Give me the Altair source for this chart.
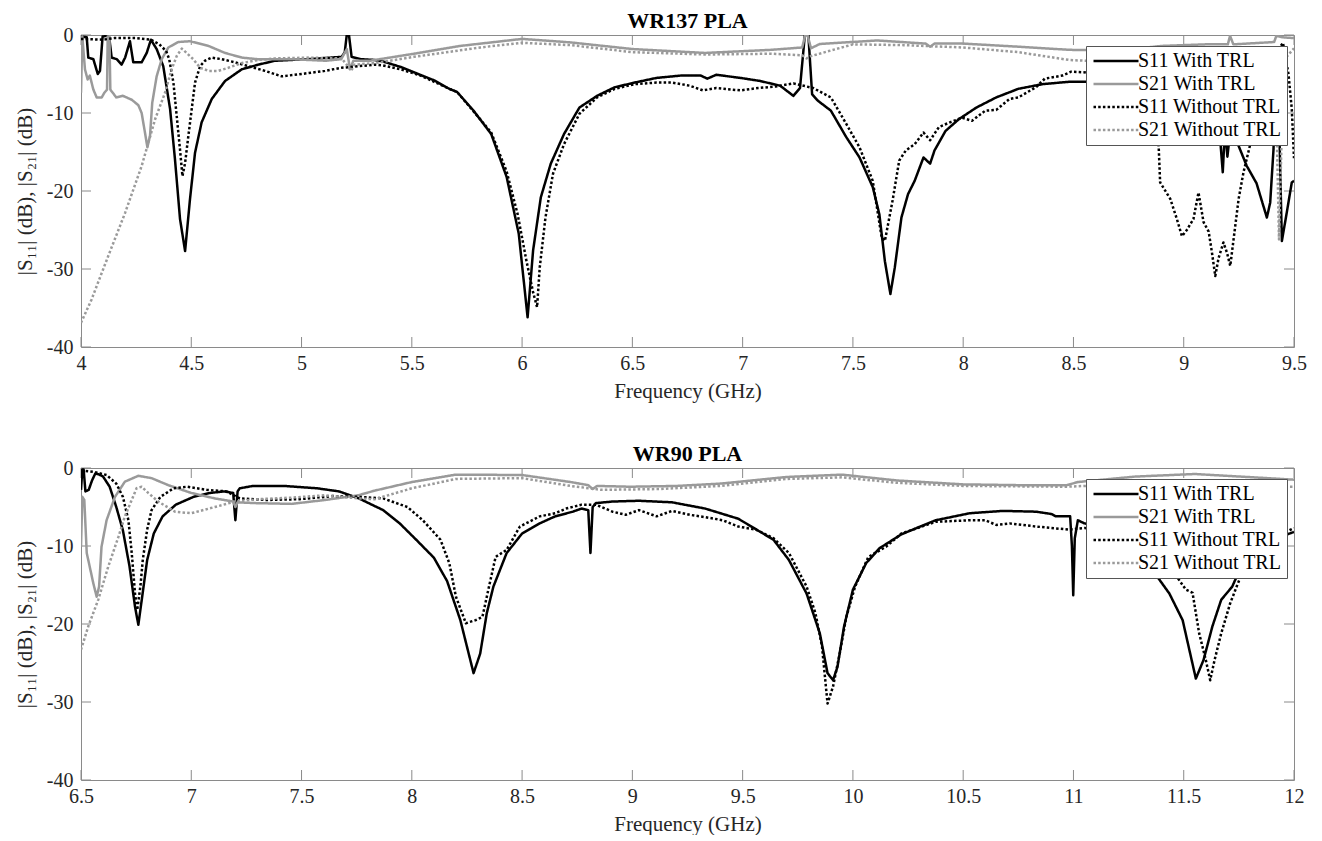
import altair as alt
import pandas as pd

# ---------------- data: (frequency GHz, dB) ----------------
SERIES = ["S11 With TRL", "S21 With TRL", "S11 Without TRL", "S21 Without TRL"]

# WR137 PLA
wr137_s11_trl = [(4.000,-0.2),(4.026,-0.3),(4.033,-2.9),(4.056,-3.1),(4.076,-5.0),(4.086,-4.6),(4.098,-0.2),(4.116,-0.1),(4.128,-0.3),(4.139,-2.9),(4.162,-3.1),(4.184,-3.8),(4.200,-2.9),(4.222,-0.8),(4.237,-3.5),(4.275,-3.5),(4.298,-2.3),(4.317,-0.6),(4.343,-1.8),(4.373,-4.0),(4.404,-9.5),(4.426,-15.9),(4.449,-23.6),(4.472,-27.7),(4.494,-21.1),(4.517,-15.1),(4.547,-11.2),(4.593,-8.2),(4.653,-5.9),(4.729,-4.4),(4.804,-3.8),(4.880,-3.3),(5.030,-3.1),(5.182,-2.8),(5.196,-2.2),(5.205,0.0),(5.215,0.0),(5.227,-2.8),(5.270,-3.1),(5.330,-3.2),(5.370,-3.4),(5.450,-4.1),(5.520,-4.9),(5.600,-5.8),(5.670,-6.9),(5.705,-7.3),(5.780,-9.7),(5.860,-12.7),(5.930,-18.2),(5.985,-25.5),(6.025,-36.2),(6.050,-27.6),(6.085,-20.8),(6.130,-16.5),(6.190,-12.7),(6.260,-9.3),(6.340,-7.8),(6.420,-6.7),(6.510,-6.1),(6.610,-5.5),(6.720,-5.2),(6.810,-5.2),(6.840,-5.6),(6.880,-5.1),(6.990,-5.5),(7.080,-5.9),(7.170,-6.5),(7.230,-7.8),(7.260,-6.8),(7.282,0.0),(7.298,0.0),(7.315,-7.6),(7.340,-8.4),(7.400,-9.7),(7.470,-13.1),(7.530,-15.7),(7.590,-19.5),(7.620,-23.0),(7.645,-29.0),(7.670,-33.2),(7.690,-29.8),(7.720,-23.4),(7.750,-20.4),(7.780,-18.7),(7.820,-15.7),(7.850,-16.5),(7.870,-14.8),(7.920,-12.3),(7.980,-10.8),(8.060,-9.3),(8.150,-8.0),(8.250,-6.9),(8.360,-6.3),(8.480,-6.0),(8.570,-6.0),(8.700,-6.3),(8.850,-7.2),(9.000,-9.0),(9.100,-11.0),(9.160,-11.5),(9.177,-17.6),(9.187,-12.0),(9.198,-15.6),(9.210,-12.5),(9.240,-13.6),(9.286,-16.8),(9.330,-19.0),(9.377,-23.4),(9.392,-21.5),(9.407,-14.7),(9.420,-3.0),(9.430,-8.0),(9.445,-26.4),(9.467,-22.8),(9.490,-18.9),(9.500,-18.7)]
wr137_s21_trl = [(4.000,-7.4),(4.006,-0.2),(4.018,-4.4),(4.030,-5.7),(4.040,-5.2),(4.056,-7.0),(4.071,-8.0),(4.094,-8.0),(4.106,-7.4),(4.118,-7.0),(4.121,-0.2),(4.129,-0.2),(4.133,-7.0),(4.160,-8.0),(4.190,-7.8),(4.230,-8.3),(4.260,-9.0),(4.275,-10.0),(4.290,-12.5),(4.301,-14.4),(4.313,-12.9),(4.323,-8.7),(4.343,-5.3),(4.366,-3.1),(4.396,-1.6),(4.441,-0.9),(4.494,-0.8),(4.578,-1.4),(4.653,-2.3),(4.730,-2.9),(4.800,-3.1),(4.950,-3.1),(5.110,-3.3),(5.180,-3.1),(5.205,-1.8),(5.220,-4.4),(5.235,-3.3),(5.310,-3.3),(5.510,-2.4),(5.720,-1.4),(6.000,-0.5),(6.220,-0.95),(6.500,-1.8),(6.830,-2.3),(7.130,-1.9),(7.270,-1.6),(7.284,0.0),(7.294,0.0),(7.310,-1.7),(7.350,-1.15),(7.610,-0.7),(7.830,-1.1),(7.850,-1.5),(7.870,-1.1),(8.000,-1.1),(8.250,-1.5),(8.480,-1.9),(8.700,-2.0),(8.900,-1.4),(9.100,-1.2),(9.200,-1.2),(9.210,-0.1),(9.225,-1.2),(9.350,-1.0),(9.410,-0.9),(9.420,-0.1),(9.450,-0.3),(9.500,-0.4)]
wr137_s11_notrl = [(4.000,-0.5),(4.100,-0.6),(4.150,-0.4),(4.250,-0.4),(4.317,-0.6),(4.355,-1.2),(4.386,-2.05),(4.400,-3.1),(4.419,-6.1),(4.434,-10.4),(4.449,-14.7),(4.460,-18.1),(4.472,-16.4),(4.487,-12.9),(4.502,-9.5),(4.517,-6.1),(4.540,-4.0),(4.562,-3.3),(4.593,-2.9),(4.638,-3.1),(4.698,-3.5),(4.759,-4.0),(4.834,-4.6),(4.910,-5.3),(5.000,-5.0),(5.106,-4.6),(5.182,-4.2),(5.258,-4.0),(5.333,-3.8),(5.370,-3.9),(5.450,-4.4),(5.540,-5.2),(5.670,-6.9),(5.705,-7.3),(5.780,-9.8),(5.860,-12.5),(5.930,-17.5),(5.980,-23.0),(6.020,-29.0),(6.050,-33.0),(6.068,-34.9),(6.080,-29.8),(6.106,-23.4),(6.140,-17.8),(6.190,-14.0),(6.260,-10.1),(6.340,-8.0),(6.420,-6.9),(6.510,-6.3),(6.610,-6.1),(6.680,-6.1),(6.760,-6.5),(6.820,-7.1),(6.880,-6.8),(6.990,-7.1),(7.070,-6.8),(7.150,-6.6),(7.230,-6.2),(7.320,-6.8),(7.400,-8.0),(7.470,-11.4),(7.530,-14.4),(7.590,-18.7),(7.630,-25.9),(7.645,-26.4),(7.680,-21.2),(7.710,-16.1),(7.740,-14.8),(7.780,-14.0),(7.820,-12.5),(7.850,-13.5),(7.890,-11.8),(7.940,-11.2),(7.995,-10.6),(8.040,-11.0),(8.100,-9.7),(8.150,-9.6),(8.210,-8.2),(8.250,-8.0),(8.330,-6.7),(8.370,-5.6),(8.450,-5.2),(8.490,-4.7),(8.555,-4.8),(8.650,-5.5),(8.750,-7.0),(8.850,-10.0),(8.886,-14.0),(8.893,-18.9),(8.939,-21.0),(8.969,-23.6),(8.992,-25.8),(9.014,-25.0),(9.044,-23.6),(9.067,-20.2),(9.090,-24.0),(9.113,-25.2),(9.128,-27.9),(9.143,-30.9),(9.158,-28.6),(9.180,-26.6),(9.196,-27.9),(9.211,-29.6),(9.226,-26.2),(9.249,-21.0),(9.271,-17.6),(9.300,-14.2),(9.350,-8.0),(9.400,-3.0),(9.450,-1.0),(9.475,-5.0),(9.490,-9.5),(9.500,-15.8)]
wr137_s21_notrl = [(4.000,-36.9),(4.048,-33.9),(4.124,-28.3),(4.200,-22.8),(4.275,-16.8),(4.336,-10.8),(4.381,-7.4),(4.411,-4.4),(4.434,-2.7),(4.457,-1.75),(4.479,-2.3),(4.509,-3.1),(4.540,-4.2),(4.578,-4.6),(4.623,-4.6),(4.668,-4.2),(4.729,-3.6),(4.804,-3.2),(4.880,-3.0),(5.030,-2.9),(5.182,-3.0),(5.210,-4.0),(5.225,-4.6),(5.240,-3.8),(5.333,-3.6),(5.510,-2.8),(5.810,-1.6),(6.000,-1.0),(6.220,-1.3),(6.500,-2.2),(6.830,-2.5),(7.130,-2.4),(7.270,-2.6),(7.290,-3.0),(7.310,-2.7),(7.500,-1.2),(7.730,-1.3),(8.000,-1.6),(8.250,-2.2),(8.480,-3.2),(8.700,-3.5),(9.000,-3.5),(9.200,-3.4),(9.400,-3.2),(9.420,-10.0),(9.432,-26.2),(9.445,-12.0),(9.460,-3.0),(9.500,-1.7)]

# WR90 PLA
wr90_s11_trl = [(6.500,-2.8),(6.506,-0.2),(6.512,-0.2),(6.520,-3.0),(6.535,-2.8),(6.550,-1.6),(6.565,-0.7),(6.580,-0.8),(6.600,-1.1),(6.630,-2.4),(6.660,-5.0),(6.690,-8.0),(6.720,-12.6),(6.745,-17.8),(6.760,-20.1),(6.775,-17.0),(6.800,-11.8),(6.830,-8.4),(6.870,-6.2),(6.930,-4.7),(7.010,-3.7),(7.085,-3.2),(7.150,-3.0),(7.190,-3.2),(7.200,-6.7),(7.210,-3.0),(7.220,-2.6),(7.280,-2.3),(7.420,-2.3),(7.570,-2.6),(7.670,-3.0),(7.760,-3.9),(7.870,-5.4),(7.945,-7.1),(8.020,-9.2),(8.100,-11.5),(8.160,-14.5),(8.220,-19.5),(8.280,-26.3),(8.310,-23.8),(8.340,-18.6),(8.370,-15.2),(8.430,-10.9),(8.500,-8.4),(8.580,-7.1),(8.650,-6.2),(8.730,-5.6),(8.770,-5.2),(8.800,-5.4),(8.810,-10.9),(8.820,-5.0),(8.835,-4.5),(8.910,-4.3),(9.030,-4.2),(9.180,-4.4),(9.330,-5.2),(9.480,-6.5),(9.640,-9.2),(9.710,-11.8),(9.790,-16.1),(9.850,-21.2),(9.885,-26.3),(9.910,-27.2),(9.930,-25.5),(9.960,-20.3),(10.000,-15.6),(10.060,-12.2),(10.120,-10.3),(10.220,-8.5),(10.375,-6.7),(10.530,-5.8),(10.680,-5.5),(10.830,-5.6),(10.900,-5.9),(10.920,-6.2),(10.985,-6.2),(10.993,-10.0),(10.999,-16.3),(11.006,-9.0),(11.020,-6.7),(11.050,-7.1),(11.150,-7.6),(11.250,-9.0),(11.330,-11.5),(11.374,-13.7),(11.435,-16.1),(11.495,-19.5),(11.555,-27.0),(11.590,-24.6),(11.630,-20.3),(11.670,-16.9),(11.720,-15.2),(11.750,-13.3),(11.850,-10.0),(11.940,-8.8),(12.000,-8.2)]
wr90_s21_trl = [(6.500,-10.1),(6.506,-3.7),(6.515,-4.1),(6.526,-10.9),(6.533,-11.8),(6.556,-14.8),(6.571,-16.5),(6.582,-15.2),(6.593,-10.1),(6.616,-6.7),(6.654,-3.7),(6.699,-1.75),(6.760,-1.0),(6.820,-1.3),(6.896,-2.2),(7.000,-3.2),(7.107,-3.9),(7.190,-4.3),(7.200,-5.0),(7.210,-4.4),(7.288,-4.5),(7.455,-4.6),(7.606,-4.1),(7.757,-3.5),(7.832,-2.9),(8.000,-1.8),(8.200,-0.85),(8.500,-0.9),(8.720,-1.8),(8.800,-2.2),(8.820,-2.7),(8.840,-2.3),(8.990,-2.4),(9.200,-2.3),(9.400,-2.0),(9.700,-1.15),(9.950,-0.85),(10.200,-1.6),(10.500,-2.1),(10.750,-2.2),(10.970,-2.2),(11.020,-1.8),(11.280,-1.1),(11.550,-0.77),(11.880,-1.3),(12.000,-1.5)]
wr90_s11_notrl = [(6.500,-0.3),(6.560,-0.5),(6.616,-0.9),(6.660,-2.0),(6.690,-3.7),(6.715,-6.7),(6.730,-10.9),(6.745,-16.1),(6.755,-18.2),(6.770,-15.0),(6.780,-11.8),(6.800,-7.9),(6.820,-5.4),(6.860,-3.7),(6.920,-2.6),(6.980,-2.4),(7.070,-2.8),(7.160,-3.0),(7.220,-3.9),(7.340,-4.1),(7.490,-4.0),(7.570,-3.8),(7.640,-3.6),(7.760,-3.7),(7.870,-3.9),(7.980,-5.0),(8.050,-6.7),(8.130,-9.2),(8.170,-12.2),(8.200,-16.5),(8.245,-19.9),(8.290,-19.5),(8.320,-19.1),(8.350,-15.2),(8.380,-11.4),(8.430,-10.5),(8.490,-7.5),(8.580,-6.2),(8.650,-5.8),(8.700,-5.2),(8.770,-4.7),(8.835,-4.7),(8.910,-5.6),(8.970,-6.0),(9.030,-5.4),(9.110,-6.2),(9.180,-5.5),(9.260,-6.0),(9.330,-6.3),(9.410,-6.7),(9.480,-7.5),(9.560,-7.9),(9.640,-9.0),(9.710,-10.9),(9.790,-15.2),(9.830,-18.6),(9.860,-22.9),(9.885,-30.2),(9.910,-28.0),(9.940,-23.8),(9.970,-19.1),(10.010,-15.2),(10.070,-11.4),(10.150,-10.1),(10.220,-8.4),(10.375,-6.9),(10.530,-6.7),(10.600,-6.7),(10.650,-7.3),(10.710,-7.1),(10.830,-7.5),(10.980,-7.9),(11.050,-7.7),(11.150,-7.8),(11.250,-8.5),(11.350,-10.0),(11.420,-12.0),(11.465,-13.8),(11.510,-15.6),(11.540,-16.0),(11.570,-21.2),(11.600,-24.6),(11.620,-27.2),(11.640,-24.6),(11.670,-21.2),(11.710,-17.4),(11.740,-15.2),(11.760,-13.8),(11.850,-10.5),(11.940,-8.5),(12.000,-7.7)]
wr90_s21_notrl = [(6.500,-23.3),(6.533,-20.3),(6.578,-16.9),(6.624,-12.6),(6.670,-8.8),(6.699,-6.2),(6.730,-4.1),(6.752,-2.6),(6.775,-2.4),(6.805,-3.2),(6.850,-4.3),(6.926,-5.6),(7.000,-5.8),(7.107,-5.0),(7.198,-4.3),(7.303,-4.0),(7.455,-3.8),(7.606,-3.5),(7.757,-3.9),(7.832,-4.0),(8.000,-2.6),(8.200,-1.4),(8.500,-1.3),(8.720,-2.3),(8.860,-2.8),(9.120,-2.7),(9.400,-2.3),(9.700,-1.4),(9.950,-1.2),(10.200,-1.9),(10.500,-2.3),(10.970,-2.4),(11.300,-2.0),(11.600,-1.8),(11.940,-2.4),(12.000,-2.4)]

WR137_XTICKS = [4, 4.5, 5, 5.5, 6, 6.5, 7, 7.5, 8, 8.5, 9, 9.5]
WR90_XTICKS = [6.5, 7, 7.5, 8, 8.5, 9, 9.5, 10, 10.5, 11, 11.5, 12]
YTICKS = [-40, -30, -20, -10, 0]

# ---------------- styling ----------------
W, H = 1213, 312
AX = "#8a8a8a"
FONT = "Liberation Serif"
COLORS = ["#000000", "#9a9a9a", "#000000", "#9a9a9a"]
DASHES = [[1, 0], [1, 0], [2.5, 2.2], [2.5, 2.2]]
TICK = 10


def frame(series_lists):
    rows = []
    for name, pts in zip(SERIES, series_lists):
        for f, d in pts:
            rows.append({"f": f, "db": d, "series": name})
    return pd.DataFrame(rows)


def panel(series_lists, xdomain, xticks, title):
    df = frame(series_lists)
    leg = alt.Legend(
        orient="none", legendX=1005, legendY=11, title=None,
        fillColor="white", strokeColor="#555555", padding=5, cornerRadius=0,
        labelFont=FONT, labelFontSize=20, labelColor="#000000",
        symbolType="M-1,0H5", symbolSize=225, symbolStrokeWidth=2.5,
        rowPadding=3, labelOffset=27,
    )
    lines = alt.Chart(df).mark_line(strokeWidth=2.5, strokeJoin="round", clip=True).encode(
        x=alt.X("f:Q", scale=alt.Scale(domain=xdomain, nice=False, zero=False),
                axis=alt.Axis(values=xticks, labelExpr="'' + datum.value", title="Frequency (GHz)",
                              ticks=False, domain=False, grid=False, labelFlush=False,
                              labelPadding=6, titlePadding=7)),
        y=alt.Y("db:Q", scale=alt.Scale(domain=[-40, 0], nice=False, zero=False),
                axis=alt.Axis(values=YTICKS, labelExpr="'' + datum.value", title="|S₁₁| (dB), |S₂₁| (dB)",
                              ticks=False, domain=False, grid=False, labelFlush=False,
                              labelPadding=8, titlePadding=11)),
        color=alt.Color("series:N", scale=alt.Scale(domain=SERIES, range=COLORS), legend=leg),
        strokeDash=alt.StrokeDash("series:N", scale=alt.Scale(domain=SERIES, range=DASHES), legend=leg),
    )
    xt = alt.Chart(pd.DataFrame({"f": xticks}))
    yt = alt.Chart(pd.DataFrame({"db": YTICKS}))
    xb = xt.mark_rule(color=AX, strokeWidth=1).encode(x="f:Q", y=alt.value(H), y2=alt.value(H - TICK))
    xtop = xt.mark_rule(color=AX, strokeWidth=1).encode(x="f:Q", y=alt.value(0), y2=alt.value(TICK))
    yl = yt.mark_rule(color=AX, strokeWidth=1).encode(y="db:Q", x=alt.value(0), x2=alt.value(TICK))
    yr = yt.mark_rule(color=AX, strokeWidth=1).encode(y="db:Q", x=alt.value(W - TICK), x2=alt.value(W))
    return alt.layer(xb, xtop, yl, yr, lines).properties(
        width=W, height=H,
        title=alt.TitleParams(title, font=FONT, fontSize=22, fontWeight="bold",
                              color="#000000", offset=-8, anchor="middle", frame="group"),
    )


top = panel([wr137_s11_trl, wr137_s21_trl, wr137_s11_notrl, wr137_s21_notrl],
            [4, 9.5], WR137_XTICKS, "WR137 PLA")
bottom = panel([wr90_s11_trl, wr90_s21_trl, wr90_s11_notrl, wr90_s21_notrl],
               [6.5, 12], WR90_XTICKS, "WR90 PLA")

chart = alt.vconcat(top, bottom, spacing=40).resolve_scale(
    x="independent", y="independent", color="independent", strokeDash="independent"
).resolve_legend(color="independent", strokeDash="independent").configure_view(
    stroke=AX, strokeWidth=1
).configure_axis(
    labelFont=FONT, labelFontSize=20, labelColor="#262626",
    titleFont=FONT, titleFontSize=21, titleFontWeight="normal", titleColor="#262626",
).properties(
    padding={"left": 5, "top": 1, "right": 5, "bottom": 0}, background="white"
)

chart.save("out.html", embed_options={"renderer": "svg", "actions": False})
